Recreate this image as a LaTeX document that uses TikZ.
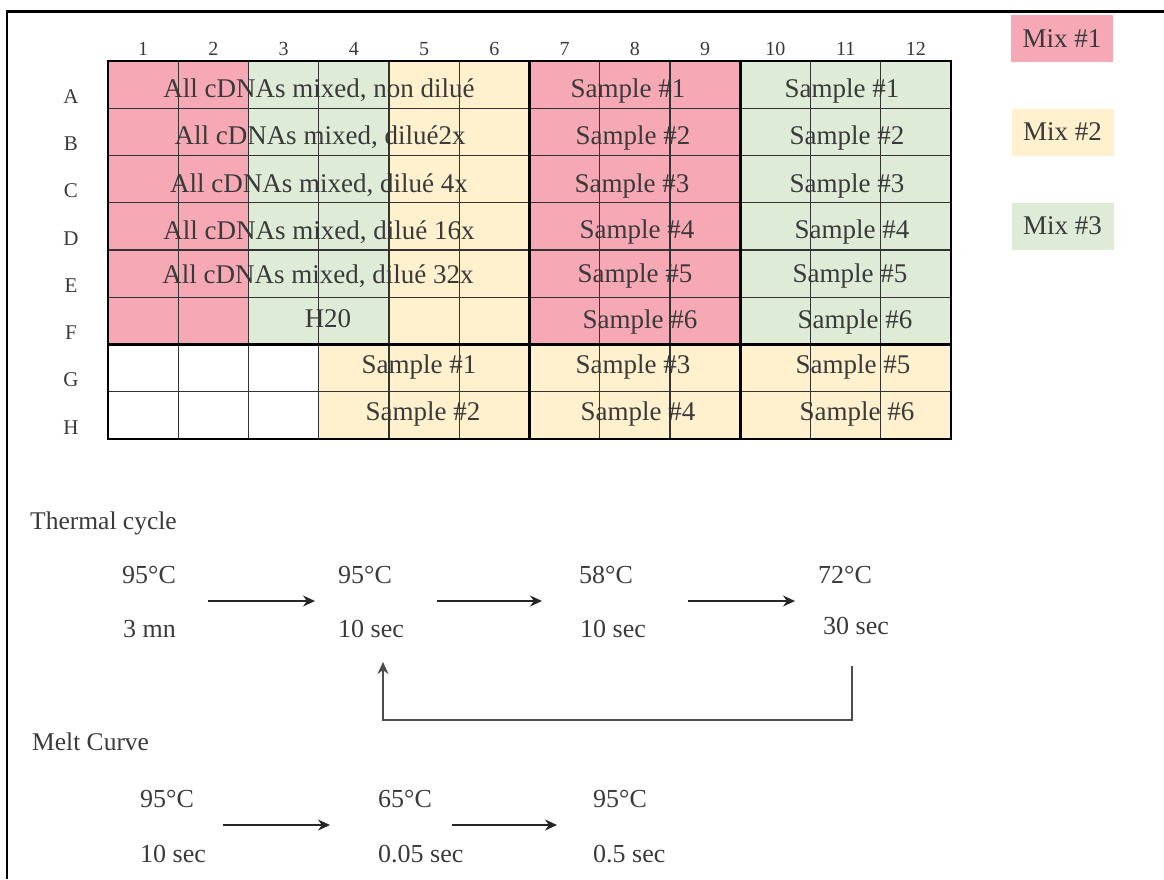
\documentclass[tikz,border=0pt]{standalone}
\usepackage{fontspec}
\setmainfont{Liberation Serif}
\usetikzlibrary{arrows.meta}
\definecolor{mixpink}{HTML}{F7A8B5}
\definecolor{mixyellow}{HTML}{FFF1CD}
\definecolor{mixgreen}{HTML}{DEEBD7}
\definecolor{txt}{HTML}{3A3A3A}
\definecolor{gridc}{HTML}{333333}
\newcommand\fsz[1]{\fontsize{#1}{#1}\selectfont}
\begin{document}
\begin{tikzpicture}[x=1pt,y=-1pt,
  celltext/.style={anchor=base, inner sep=0pt, text=txt, font=\fsz{27}},
  collabel/.style={anchor=base, inner sep=0pt, text=txt, font=\fsz{20}},
  rowlabel/.style={anchor=base, inner sep=0pt, text=txt, font=\fsz{21}},
  legendbox/.style={minimum width=102pt, minimum height=47pt, inner sep=0pt, text=txt, font=\fsz{27}},
  steptext/.style={anchor=base west, inner sep=0pt, text=txt, font=\fsz{26}},
  heading/.style={anchor=base west, inner sep=0pt, text=txt, font=\fsz{25.5}},
  gridthin/.style={draw=gridc, line width=1.3pt},
  gridthick/.style={draw=black, line width=2.6pt},
  flowarrow/.style={draw=black!85, line width=1.3pt, -{Stealth[length=12pt,width=11pt]}},
  looparrow/.style={draw=black!70, line width=1.4pt, -{Stealth[length=12pt,width=11pt]}},
]
\useasboundingbox (0,0) rectangle (1164,879);
% frame
\draw[line width=2.5pt, black] (7,879) -- (7,11.5) -- (1164,11.5);
% plate fills
\fill[mixpink] (108,61) rectangle (248.5,344.5);
\fill[mixgreen] (248.5,61) rectangle (389,344.5);
\fill[mixyellow] (389,61) rectangle (529.5,344.5);
\fill[mixpink] (529.5,61) rectangle (740.25,344.5);
\fill[mixgreen] (740.25,61) rectangle (951,344.5);
\fill[mixyellow] (318.75,344.5) rectangle (951,439);
% column and row labels
\foreach \c in {1,...,12} \node[collabel] (col\c) at ({108+(\c-0.5)*70.25},55) {\c};
\foreach \r [count=\i] in {A,...,H} \node[rowlabel] (row\r) at (71,{61+\i*47.25-5}) {\r};
% cell texts, left block
\node[celltext] (tA) at (319,97) {All cDNAs mixed, non dilué};
\node[celltext] (tB) at (320,144) {All cDNAs mixed, dilué2x};
\node[celltext] (tC) at (319,192) {All cDNAs mixed, dilué 4x};
\node[celltext] (tD) at (319,239) {All cDNAs mixed, dilué 16x};
\node[celltext] (tE) at (318,283) {All cDNAs mixed, dilué 32x};
\node[celltext] (tF) at (328,327) {H20};
\node[celltext] (tG1) at (419,373) {Sample \#1};
\node[celltext] (tH2) at (423,420) {Sample \#2};
% pink block
\node[celltext] (pA) at (628,97) {Sample \#1};
\node[celltext] (pB) at (633,144) {Sample \#2};
\node[celltext] (pC) at (632,192) {Sample \#3};
\node[celltext] (pD) at (637,238) {Sample \#4};
\node[celltext] (pE) at (635,282) {Sample \#5};
\node[celltext] (pF) at (640,328) {Sample \#6};
% green block
\node[celltext] (gA) at (842,97) {Sample \#1};
\node[celltext] (gB) at (847,144) {Sample \#2};
\node[celltext] (gC) at (847,192) {Sample \#3};
\node[celltext] (gD) at (852,238) {Sample \#4};
\node[celltext] (gE) at (850,282) {Sample \#5};
\node[celltext] (gF) at (855,328) {Sample \#6};
% yellow rows G-H
\node[celltext] (yG3) at (633,373) {Sample \#3};
\node[celltext] (yG5) at (853,373) {Sample \#5};
\node[celltext] (yH4) at (638,420) {Sample \#4};
\node[celltext] (yH6) at (857,420) {Sample \#6};
% grid
\foreach \i in {1,...,11} \draw[gridthin] ({108+\i*70.25},61) -- ({108+\i*70.25},439);
\foreach \j in {1,...,7} \draw[gridthin] (108,{61+\j*47.25}) -- (951,{61+\j*47.25});
\draw[gridthick] (108,344.5) -- (951,344.5);
\draw[gridthick] (529.5,61) -- (529.5,439);
\draw[gridthick] (740.25,61) -- (740.25,439);
\draw[gridthick] (108,61) rectangle (951,439);
% legend
\node[legendbox, fill=mixpink] (mix1) at (1062,38.5) {Mix \#1};
\node[legendbox, fill=mixyellow] (mix2) at (1062.5,132) {Mix \#2};
\node[legendbox, fill=mixgreen] (mix3) at (1062.5,226) {Mix \#3};
% thermal cycle
\node[heading] (thermal) at (30,529) {Thermal cycle};
\node[steptext] (s1t) at (122,583) {95°C};
\node[steptext] (s1d) at (123,637) {3 mn};
\node[steptext] (s2t) at (338,583) {95°C};
\node[steptext] (s2d) at (338,637) {10 sec};
\node[steptext] (s3t) at (579,583) {58°C};
\node[steptext] (s3d) at (580,637) {10 sec};
\node[steptext] (s4t) at (818,583) {72°C};
\node[steptext] (s4d) at (823,634) {30 sec};
\draw[flowarrow] ([shift={(86pt,-18pt)}]s1t.base west) -- ([shift={(-23pt,-18pt)}]s2t.base west);
\draw[flowarrow] ([shift={(99pt,-18pt)}]s2t.base west) -- ([shift={(-37pt,-18pt)}]s3t.base west);
\draw[flowarrow] ([shift={(109pt,-18pt)}]s3t.base west) -- ([shift={(-23pt,-18pt)}]s4t.base west);
\draw[looparrow] ([shift={(29pt,-32pt)}]s4d.base west) -- ++(0,54) -| ([shift={(45pt,-25pt)}]s2d.base west);
% melt curve
\node[heading] (melt) at (32,750) {Melt Curve};
\node[steptext] (m1t) at (140,807) {95°C};
\node[steptext] (m1d) at (140,862) {10 sec};
\node[steptext] (m2t) at (378,807) {65°C};
\node[steptext] (m2d) at (378,862) {0.05 sec};
\node[steptext] (m3t) at (593,807) {95°C};
\node[steptext] (m3d) at (593,862) {0.5 sec};
\draw[flowarrow] ([shift={(83pt,-18pt)}]m1t.base west) -- ([shift={(-48pt,-18pt)}]m2t.base west);
\draw[flowarrow] ([shift={(74pt,-18pt)}]m2t.base west) -- ([shift={(-36pt,-18pt)}]m3t.base west);
\end{tikzpicture}
\end{document}
